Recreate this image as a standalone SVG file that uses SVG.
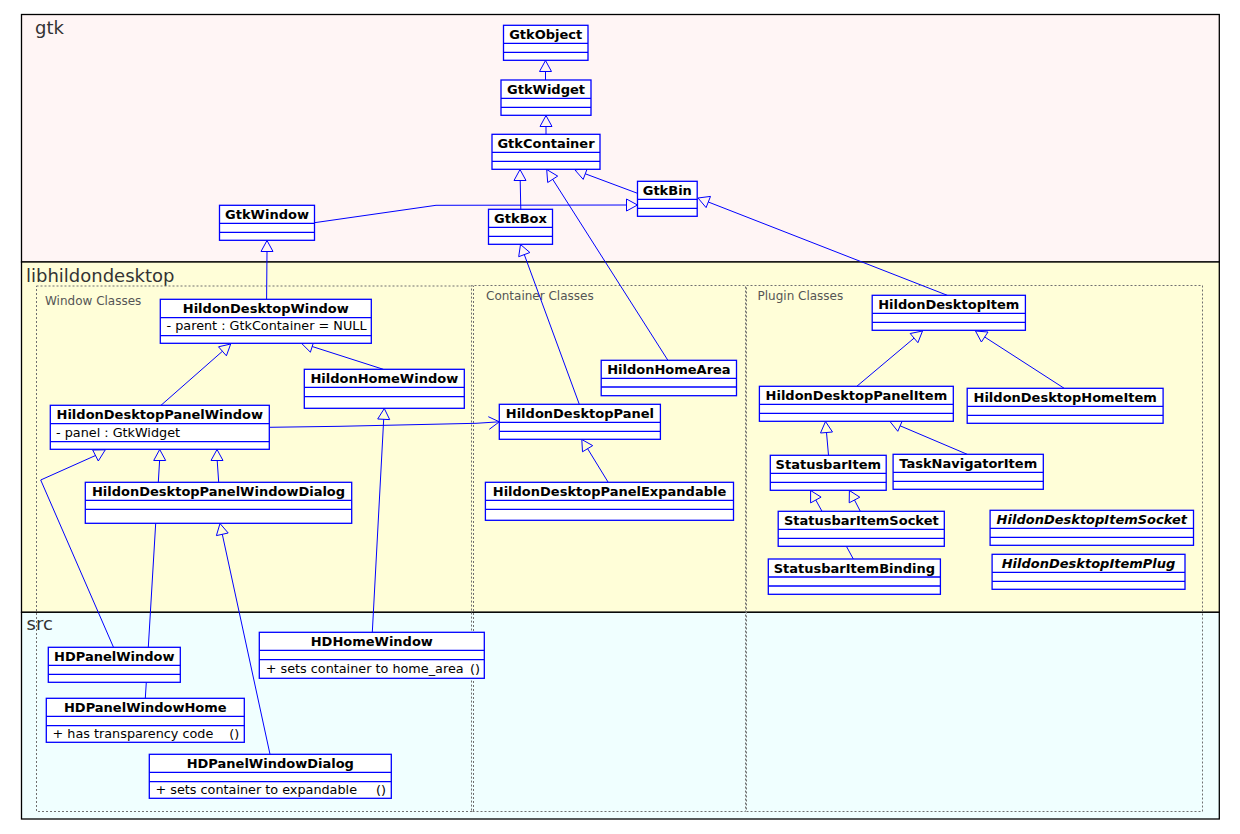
<svg xmlns="http://www.w3.org/2000/svg" width="1240" height="834" viewBox="0 0 1240 834">
<style>
.band{stroke:#000;stroke-width:1.3}
.pkg{font-family:"DejaVu Sans",sans-serif;font-size:18px;fill:#333}
.grp{fill:none;stroke:#707070;stroke-width:1;stroke-dasharray:2,2}
.glab{font-family:"DejaVu Sans",sans-serif;font-size:12px;fill:#555}
.box{fill:#fff;stroke:#0000ff;stroke-width:1.3}
.sep{stroke:#0000ff;stroke-width:1.3}
.nm{font-family:"DejaVu Sans",sans-serif;font-size:13px;font-weight:bold;fill:#000;text-anchor:middle}
.it{font-style:italic}
.at{font-family:"DejaVu Sans",sans-serif;font-size:12.8px;fill:#000}
.cn{fill:none;stroke:#0000ff;stroke-width:1}
</style>
<rect width="1240" height="834" fill="#fff"/>
<g id="packages">
<rect class="band" x="21.5" y="14.5" width="1197.8" height="247.5" fill="#fff5f5"/>
<rect class="band" x="21.5" y="262" width="1197.8" height="350.3" fill="#fffed8"/>
<rect class="band" x="21.5" y="612.3" width="1197.8" height="206.7" fill="#f0ffff"/>
<text class="pkg" x="35" y="34">gtk</text>
<text class="pkg" x="26" y="281.7">libhildondesktop</text>
<text class="pkg" x="26.5" y="629.5">src</text>
<rect class="grp" x="36.5" y="286" width="437" height="525.5"/>
<rect class="grp" x="471.5" y="285.5" width="274" height="526" stroke-dashoffset="1"/>
<rect class="grp" x="746.5" y="285.5" width="456" height="526"/>
<text class="glab" x="45" y="305">Window Classes</text>
<text class="glab" x="486" y="300">Container Classes</text>
<text class="glab" x="757.5" y="300">Plugin Classes</text>
</g>
<g id="connectors">
<polygon class="cn" points="545.5,60.5 539.5,71.5 551.5,71.5"/><line class="cn" x1="545.5" y1="80" x2="545.5" y2="71.5"/>
<polygon class="cn" points="546,115.5 540,126.5 552,126.5"/><line class="cn" x1="546" y1="134.3" x2="546" y2="126.5"/>
<polygon class="cn" points="520,169.5 514,180.5 526,180.5"/><line class="cn" x1="520.8" y1="209.3" x2="520.2" y2="180.5"/>
<polygon class="cn" points="546.7,169.5 557.7,176.1 547.7,182.5"/><line class="cn" x1="552.7" y1="179.3" x2="667.9" y2="360.3"/>
<polygon class="cn" points="575,170 587.4,168.2 583.2,179.4"/><line class="cn" x1="585.3" y1="173.8" x2="637.5" y2="193.3"/>
<polygon class="cn" points="637.5,205 626.5,199 626.5,211"/><polyline class="cn" points="314.5,222.7 436,205.3 626.5,205"/>
<polygon class="cn" points="698,198 710.5,196.4 706.1,207.6"/><line class="cn" x1="708.3" y1="202" x2="947.3" y2="295.3"/>
<polygon class="cn" points="267,240.5 261,251.5 273,251.5"/><line class="cn" x1="267" y1="251.5" x2="266.6" y2="299.3"/>
<polygon class="cn" points="520.5,244.5 529.9,252.5 518.7,256.7"/><line class="cn" x1="524.3" y1="254.6" x2="579.3" y2="404.3"/>
<polygon class="cn" points="230.7,344 226.4,355.8 218.5,346.8"/><line class="cn" x1="222.4" y1="351.3" x2="161" y2="405.3"/>
<polygon class="cn" points="301.7,343.5 314,340.8 310.4,352.2"/><line class="cn" x1="312.2" y1="346.5" x2="383.3" y2="369.3"/>
<polygon class="cn" points="384.3,408.5 389.7,419.6 377.7,419"/><line class="cn" x1="383.7" y1="419.3" x2="372.3" y2="632.3"/>
<polygon class="cn" points="159.7,449.5 153.7,460.5 165.7,460.5"/><line class="cn" x1="159.6" y1="460.5" x2="158.3" y2="482.3"/>
<polygon class="cn" points="217,449.5 211,460.5 223,460.5"/><line class="cn" x1="217.2" y1="460.5" x2="218.7" y2="482.3"/>
<polygon class="cn" points="92.7,450 98.3,461 105.3,449.8"/><polyline class="cn" points="113.5,647.3 40.7,480 95.5,455.5"/>
<polygon class="cn" points="220,523.5 228.2,533 216.4,535.6"/><line class="cn" x1="222.3" y1="534.3" x2="270" y2="754.3"/>
<polygon class="cn" points="581.8,439.5 592.7,445.6 582.5,451.8"/><line class="cn" x1="587.6" y1="448.7" x2="608.2" y2="482.3"/>
<polygon class="cn" points="922.5,331 917.9,342.7 910.2,333.5"/><line class="cn" x1="914.1" y1="338.1" x2="856.8" y2="386.3"/>
<polygon class="cn" points="975.5,331 988,332 981.4,342"/><line class="cn" x1="984.7" y1="337" x2="1064.2" y2="388.3"/>
<polygon class="cn" points="825.5,421.5 832.5,432 820.5,433"/><line class="cn" x1="826.5" y1="432.5" x2="828.5" y2="455.3"/>
<polygon class="cn" points="890,421.5 902.5,420.3 897.8,431.3"/><line class="cn" x1="900.1" y1="425.8" x2="967.2" y2="454.3"/>
<polygon class="cn" points="810.6,490.5 821.1,497.1 810.6,502.9"/><line class="cn" x1="815.8" y1="500" x2="822" y2="511.3"/>
<polygon class="cn" points="849.4,490.5 859.8,497.2 849.2,502.8"/><line class="cn" x1="854.5" y1="500" x2="860.3" y2="511.3"/>
<line class="cn" x1="155.7" y1="523.3" x2="148.3" y2="647.3"/>
<line class="cn" x1="146.3" y1="682.3" x2="145.3" y2="698.3"/>
<line class="cn" x1="846.4" y1="546.3" x2="853.3" y2="559"/>
<polyline class="cn" points="269.3,427.3 340,426.3 476,423.3 499.3,421.8"/>
<polyline class="cn" points="488.3,416.7 499.3,421.8 489.3,429.3"/>
</g>
<g id="GtkObject"><rect class="box" x="503.5" y="25.3" width="84.5" height="35"/><line class="sep" x1="503.5" y1="43.3" x2="588" y2="43.3"/><line class="sep" x1="503.5" y1="52.3" x2="588" y2="52.3"/><text class="nm" x="545.75" y="38.8">GtkObject</text></g>
<g id="GtkWidget"><rect class="box" x="501" y="80" width="90" height="35.3"/><line class="sep" x1="501" y1="98.3" x2="591" y2="98.3"/><line class="sep" x1="501" y1="107.3" x2="591" y2="107.3"/><text class="nm" x="546" y="93.5">GtkWidget</text></g>
<g id="GtkContainer"><rect class="box" x="492" y="134.3" width="108" height="35"/><line class="sep" x1="492" y1="152.3" x2="600" y2="152.3"/><line class="sep" x1="492" y1="161.3" x2="600" y2="161.3"/><text class="nm" x="546" y="147.8">GtkContainer</text></g>
<g id="GtkBin"><rect class="box" x="637.5" y="181.3" width="59.7" height="35"/><line class="sep" x1="637.5" y1="199.3" x2="697.2" y2="199.3"/><line class="sep" x1="637.5" y1="208.3" x2="697.2" y2="208.3"/><text class="nm" x="667.3" y="194.8">GtkBin</text></g>
<g id="GtkWindow"><rect class="box" x="219.5" y="205.3" width="95" height="35"/><line class="sep" x1="219.5" y1="223.3" x2="314.5" y2="223.3"/><line class="sep" x1="219.5" y1="232.3" x2="314.5" y2="232.3"/><text class="nm" x="267" y="218.8">GtkWindow</text></g>
<g id="GtkBox"><rect class="box" x="488.5" y="209.3" width="64" height="35"/><line class="sep" x1="488.5" y1="227.3" x2="552.5" y2="227.3"/><line class="sep" x1="488.5" y1="236.3" x2="552.5" y2="236.3"/><text class="nm" x="520.5" y="222.8">GtkBox</text></g>
<g id="HildonDesktopWindow"><rect class="box" x="160.3" y="299.3" width="211" height="44"/><line class="sep" x1="160.3" y1="317.7" x2="371.3" y2="317.7"/><line class="sep" x1="160.3" y1="335.7" x2="371.3" y2="335.7"/><text class="nm" x="265.8" y="312.8">HildonDesktopWindow</text><text class="at" x="166.5" y="330">- parent : GtkContainer = NULL</text></g>
<g id="HildonHomeWindow"><rect class="box" x="304.3" y="369.3" width="160" height="39"/><line class="sep" x1="304.3" y1="387.3" x2="464.3" y2="387.3"/><line class="sep" x1="304.3" y1="396.7" x2="464.3" y2="396.7"/><text class="nm" x="384.3" y="382.8">HildonHomeWindow</text></g>
<g id="HildonDesktopPanelWindow"><rect class="box" x="50.3" y="405.3" width="219" height="44"/><line class="sep" x1="50.3" y1="423.7" x2="269.3" y2="423.7"/><line class="sep" x1="50.3" y1="441.7" x2="269.3" y2="441.7"/><text class="nm" x="159.8" y="418.8">HildonDesktopPanelWindow</text><text class="at" x="56" y="436.5">- panel : GtkWidget</text></g>
<g id="HildonDesktopPanelWindowDialog"><rect class="box" x="85.3" y="482.3" width="266.4" height="41"/><line class="sep" x1="85.3" y1="500.3" x2="351.7" y2="500.3"/><line class="sep" x1="85.3" y1="509.3" x2="351.7" y2="509.3"/><text class="nm" x="218.5" y="495.8">HildonDesktopPanelWindowDialog</text></g>
<g id="HildonHomeArea"><rect class="box" x="601.2" y="360.3" width="135.3" height="35.4"/><line class="sep" x1="601.2" y1="378.3" x2="736.5" y2="378.3"/><line class="sep" x1="601.2" y1="387" x2="736.5" y2="387"/><text class="nm" x="668.9" y="373.8">HildonHomeArea</text></g>
<g id="HildonDesktopPanel"><rect class="box" x="499.3" y="404.3" width="161.1" height="35"/><line class="sep" x1="499.3" y1="422.3" x2="660.4" y2="422.3"/><line class="sep" x1="499.3" y1="431.3" x2="660.4" y2="431.3"/><text class="nm" x="579.9" y="417.8">HildonDesktopPanel</text></g>
<g id="HildonDesktopPanelExpandable"><rect class="box" x="485.4" y="482.3" width="248.1" height="38"/><line class="sep" x1="485.4" y1="500.3" x2="733.5" y2="500.3"/><line class="sep" x1="485.4" y1="509.3" x2="733.5" y2="509.3"/><text class="nm" x="609.5" y="495.8">HildonDesktopPanelExpandable</text></g>
<g id="HildonDesktopItem"><rect class="box" x="872.2" y="295.3" width="153.2" height="35"/><line class="sep" x1="872.2" y1="313.3" x2="1025.4" y2="313.3"/><line class="sep" x1="872.2" y1="322.3" x2="1025.4" y2="322.3"/><text class="nm" x="948.8" y="308.8">HildonDesktopItem</text></g>
<g id="HildonDesktopPanelItem"><rect class="box" x="759.4" y="386.3" width="193.9" height="35"/><line class="sep" x1="759.4" y1="404.3" x2="953.3" y2="404.3"/><line class="sep" x1="759.4" y1="413.3" x2="953.3" y2="413.3"/><text class="nm" x="856.4" y="399.8">HildonDesktopPanelItem</text></g>
<g id="HildonDesktopHomeItem"><rect class="box" x="967.2" y="388.3" width="195.9" height="35"/><line class="sep" x1="967.2" y1="406.3" x2="1163.1" y2="406.3"/><line class="sep" x1="967.2" y1="415.3" x2="1163.1" y2="415.3"/><text class="nm" x="1065.2" y="401.8">HildonDesktopHomeItem</text></g>
<g id="StatusbarItem"><rect class="box" x="770.3" y="455.3" width="115.9" height="35"/><line class="sep" x1="770.3" y1="473.3" x2="886.2" y2="473.3"/><line class="sep" x1="770.3" y1="482.3" x2="886.2" y2="482.3"/><text class="nm" x="828.3" y="468.8">StatusbarItem</text></g>
<g id="TaskNavigatorItem"><rect class="box" x="893.1" y="454.3" width="150.2" height="35"/><line class="sep" x1="893.1" y1="472.3" x2="1043.3" y2="472.3"/><line class="sep" x1="893.1" y1="481.3" x2="1043.3" y2="481.3"/><text class="nm" x="968.2" y="467.8">TaskNavigatorItem</text></g>
<g id="StatusbarItemSocket"><rect class="box" x="778.2" y="511.3" width="166.1" height="35"/><line class="sep" x1="778.2" y1="529.3" x2="944.3" y2="529.3"/><line class="sep" x1="778.2" y1="538.3" x2="944.3" y2="538.3"/><text class="nm" x="861.3" y="524.8">StatusbarItemSocket</text></g>
<g id="StatusbarItemBinding"><rect class="box" x="768.3" y="559" width="172.1" height="35.3"/><line class="sep" x1="768.3" y1="577" x2="940.4" y2="577"/><line class="sep" x1="768.3" y1="586" x2="940.4" y2="586"/><text class="nm" x="854.4" y="572.5">StatusbarItemBinding</text></g>
<g id="HildonDesktopItemSocket"><rect class="box" x="990.1" y="510.3" width="203.4" height="35"/><line class="sep" x1="990.1" y1="528.3" x2="1193.5" y2="528.3"/><line class="sep" x1="990.1" y1="537.3" x2="1193.5" y2="537.3"/><text class="nm it" x="1091.8" y="523.8">HildonDesktopItemSocket</text></g>
<g id="HildonDesktopItemPlug"><rect class="box" x="992.1" y="554.3" width="192.9" height="35"/><line class="sep" x1="992.1" y1="572.3" x2="1185" y2="572.3"/><line class="sep" x1="992.1" y1="581.3" x2="1185" y2="581.3"/><text class="nm it" x="1088.5" y="567.8">HildonDesktopItemPlug</text></g>
<g id="HDPanelWindow"><rect class="box" x="48.3" y="647.3" width="132" height="35"/><line class="sep" x1="48.3" y1="665.3" x2="180.3" y2="665.3"/><line class="sep" x1="48.3" y1="674.3" x2="180.3" y2="674.3"/><text class="nm" x="114.3" y="660.8">HDPanelWindow</text></g>
<g id="HDPanelWindowHome"><rect class="box" x="46.3" y="698.3" width="198" height="44"/><line class="sep" x1="46.3" y1="716.3" x2="244.3" y2="716.3"/><line class="sep" x1="46.3" y1="725.7" x2="244.3" y2="725.7"/><text class="nm" x="145.3" y="711.8">HDPanelWindowHome</text><text class="at" x="52.5" y="738">+ has transparency code</text><text class="at" x="229.3" y="738">()</text></g>
<g id="HDPanelWindowDialog"><rect class="box" x="149.3" y="754.3" width="242" height="44"/><line class="sep" x1="149.3" y1="772.3" x2="391.3" y2="772.3"/><line class="sep" x1="149.3" y1="781.7" x2="391.3" y2="781.7"/><text class="nm" x="270.3" y="767.8">HDPanelWindowDialog</text><text class="at" x="155.5" y="794">+ sets container to expandable</text><text class="at" x="376" y="794">()</text></g>
<g id="HDHomeWindow"><rect class="box" x="259.3" y="632.3" width="225" height="46"/><line class="sep" x1="259.3" y1="650.3" x2="484.3" y2="650.3"/><line class="sep" x1="259.3" y1="659.7" x2="484.3" y2="659.7"/><text class="nm" x="371.8" y="645.8">HDHomeWindow</text><text class="at" x="265.7" y="672.5">+ sets container to home_area</text><text class="at" x="470" y="672.5">()</text></g>
</svg>
